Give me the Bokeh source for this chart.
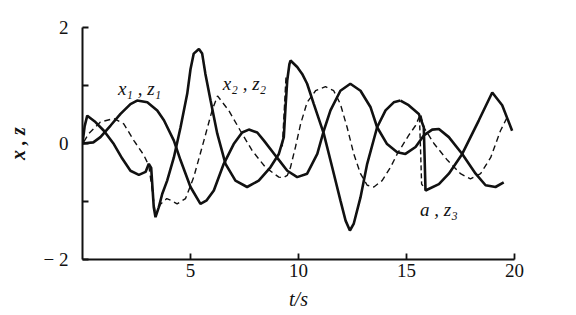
from bokeh.plotting import figure
from bokeh.models import Range1d, Label, FixedTicker
from bokeh.embed import file_html
from bokeh.resources import INLINE

# ---- data ----
x1_t = [0, 0.5, 0.83, 1.3, 1.76, 2.22, 2.53, 3.0, 3.46, 3.77, 4.23, 4.54, 5.0, 5.46, 5.75, 6.08,
        6.54, 7.0, 7.39, 7.7, 8.09, 8.4, 9.0, 9.48, 9.94, 10.4, 10.87, 11.17, 11.48, 11.94, 12.4,
        12.87, 13.33, 13.64, 14.1, 14.57, 14.95, 15.42, 15.8, 16.19, 16.5, 16.96, 17.58, 18.2,
        18.66, 19.12, 19.5]
x1_v = [0, 0.02, 0.11, 0.31, 0.51, 0.68, 0.74, 0.71, 0.57, 0.40, 0.05, -0.29, -0.75, -1.04, -0.98,
        -0.81, -0.35, -0.01, 0.19, 0.24, 0.19, 0.05, -0.24, -0.47, -0.58, -0.52, -0.18, 0.22, 0.57,
        0.91, 1.03, 0.91, 0.63, 0.28, -0.01, -0.15, -0.18, -0.06, 0.14, 0.24, 0.25, 0.11, -0.18,
        -0.52, -0.72, -0.75, -0.67]

x2_t = [0, 0.1, 0.22, 0.6, 0.99, 1.45, 1.84, 2.22, 2.61, 2.92, 3.07, 3.18, 3.3, 3.38, 3.53, 3.69,
        3.92, 4.23, 4.54, 4.85, 5.0, 5.15, 5.39, 5.54, 5.69, 5.93, 6.24, 6.62, 7.08, 7.62, 8.16,
        8.7, 9.09, 9.32, 9.4, 9.48, 9.58, 9.63, 9.94, 10.17, 10.4, 10.71, 11.17, 11.56, 11.94,
        12.18, 12.38, 12.56, 12.87, 13.18, 13.64, 14.03, 14.41, 14.72]
x2_v = [0, 0.3, 0.48, 0.37, 0.22, -0.01, -0.26, -0.47, -0.54, -0.49, -0.35, -0.42, -1.1, -1.27,
        -1.1, -0.87, -0.64, -0.24, 0.28, 0.86, 1.28, 1.55, 1.63, 1.55, 1.2, 0.74, 0.17, -0.35,
        -0.64, -0.75, -0.64, -0.41, -0.18, 0.11, 0.63, 1.09, 1.37, 1.43, 1.32, 1.2, 1.03, 0.68,
        0.17, -0.41, -0.98, -1.33, -1.5, -1.38, -0.93, -0.35, 0.28, 0.57, 0.71, 0.74]

a_t = [14.72, 15.1, 15.57, 15.8, 15.88, 16.5, 16.96, 17.58, 18.35, 18.97, 19.43, 19.89]
a_v = [0.74, 0.66, 0.51, 0.28, -0.81, -0.70, -0.52, -0.18, 0.40, 0.88, 0.66, 0.22]

z1_t = [0.06, 0.29, 0.83, 1.45, 1.91, 2.38, 2.84, 3.07, 3.3, 3.38, 3.6, 3.9, 4.1, 4.38, 4.77, 5.15,
        5.62, 6.0, 6.25, 6.77, 7.31, 7.85, 8.47, 9.09, 9.3, 9.48, 9.63, 9.86, 10.1, 10.4, 10.79,
        11.25, 11.63, 11.94, 12.25, 12.56, 12.87, 13.18, 13.49, 13.87, 14.26, 14.57, 15.1, 15.42,
        15.65, 15.8, 16.27, 16.9, 17.5, 17.96, 18.43, 18.9, 19.35, 19.66]
z1_v = [0.03, 0.17, 0.37, 0.43, 0.34, 0.05, -0.2, -0.38, -1.0, -1.25, -1.05, -0.95, -0.98, -1.04,
        -0.95, -0.58, 0.05, 0.57, 0.82, 0.57, 0.22, -0.12, -0.41, -0.58, -0.59, -0.55, -0.41,
        -0.06, 0.34, 0.71, 0.91, 0.98, 0.91, 0.68, 0.28, -0.18, -0.52, -0.72, -0.75, -0.64, -0.41,
        -0.18, 0.14, 0.31, 0.51, 0.28, 0.0, -0.29, -0.52, -0.61, -0.52, -0.24, 0.22, 0.45]

z2_t = [9.25, 9.33, 9.42]
z2_v = [-0.05, 0.5, 1.14]

z3_t = [15.6, 15.65, 15.7, 15.9]
z3_v = [0.45, -0.1, -0.7, -0.8]

x_ticks = [5, 10, 15, 20]
y_ticks = [-2, -1, 0, 1, 2]
y_tick_labels = {-2: "\u2212 2", -1: "", 0: "0", 1: "", 2: "2"}

p = figure(width=576, height=315, x_range=Range1d(0, 20), y_range=Range1d(-2, 2),
           output_backend="svg", toolbar_location=None,
           min_border_left=82, min_border_right=62, min_border_top=27, min_border_bottom=56)
p.outline_line_color = None
p.background_fill_color = "white"
p.border_fill_color = "white"
p.xgrid.visible = False
p.ygrid.visible = False

ink = "#111111"
p.line(x1_t, x1_v, line_width=2.6, line_color=ink)
p.line(x2_t, x2_v, line_width=2.6, line_color=ink)
p.line(a_t, a_v, line_width=2.6, line_color=ink)
p.line(z1_t, z1_v, line_width=1.4, line_color=ink, line_dash="6 4")
p.line(z2_t, z2_v, line_width=1.4, line_color=ink, line_dash="6 3")
p.line(z3_t, z3_v, line_width=1.4, line_color=ink, line_dash="5 3")

serif = "Liberation Serif"

for ax in (p.xaxis[0], p.yaxis[0]):
    ax.axis_line_width = 2
    ax.axis_line_color = ink
    ax.major_tick_in = 6
    ax.major_tick_out = 0
    ax.major_tick_line_width = 1.8
    ax.major_tick_line_color = ink
    ax.minor_tick_line_color = None
    ax.major_label_text_font = serif
    ax.major_label_text_font_size = "19px"
    ax.major_label_text_color = ink
    ax.axis_label_text_font = serif
    ax.axis_label_text_font_size = "20px"
    ax.axis_label_text_color = ink

p.xaxis.ticker = FixedTicker(ticks=x_ticks)
p.xaxis.major_label_standoff = 4
p.xaxis.axis_label = "t/s"
p.xaxis.axis_label_text_font_style = "italic"
p.xaxis.axis_label_standoff = 8

p.yaxis.ticker = FixedTicker(ticks=y_ticks)
p.yaxis.major_label_overrides = y_tick_labels
p.yaxis.major_label_standoff = 14
p.yaxis.axis_label = "x , z"
p.yaxis.axis_label_text_font_style = "bold italic"
p.yaxis.axis_label_standoff = 12

p.add_layout(Label(x=2.64, y=0.95, text="x\u2081 , z\u2081", text_font=serif,
                   text_font_style="italic", text_font_size="19px", text_align="center",
                   text_baseline="middle", text_color=ink))
p.add_layout(Label(x=7.5, y=1.03, text="x\u2082 , z\u2082", text_font=serif,
                   text_font_style="italic", text_font_size="19px", text_align="center",
                   text_baseline="middle", text_color=ink))
p.add_layout(Label(x=16.5, y=-1.14, text="a , z\u2083", text_font=serif,
                   text_font_style="italic", text_font_size="19px", text_align="center",
                   text_baseline="middle", text_color=ink))

open("out.html", "w").write(file_html(p, INLINE))
